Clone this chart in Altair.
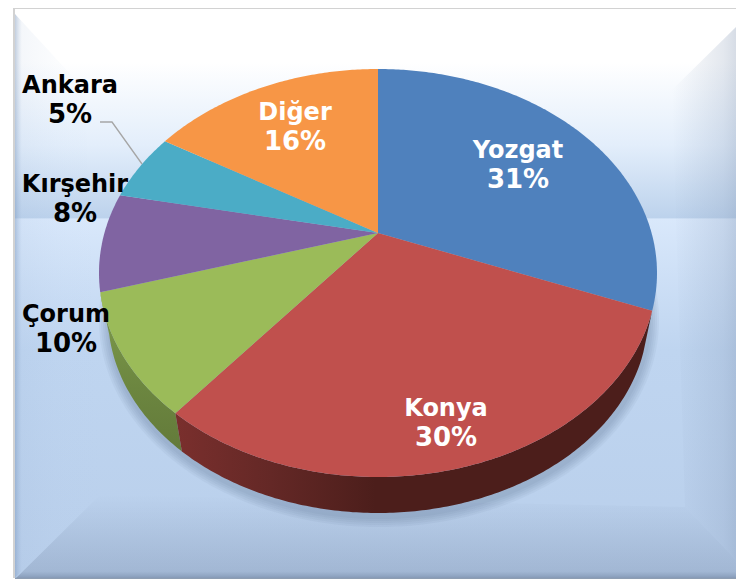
import math
import altair as alt

categories = ["Yozgat", "Konya", "Çorum", "Kırşehir", "Ankara", "Diğer"]
shares = [31, 29.8, 9.6, 7.8, 5.4, 16.4]
percent_labels = ["31%", "30%", "10%", "8%", "5%", "16%"]
colors = ["#4f81bd", "#c0504d", "#9bbb59", "#8064a2", "#4bacc6", "#f79646"]
label_x = [518, 446, 66, 75, 70, 295]
name_y = [151, 409, 315, 185, 86, 113]
pct_y = [180, 438, 344, 214, 115, 142]
label_color = ["white", "white", "black", "black", "black", "white"]

OX, OY = 8, 8
TILT = -0.196
TOP = (378, 273, 279, 204)
LOW = (378, 316, 270, 197)
APEX = (378, 233)


def P(x, y):
    return [x - OX, y - OY]


def rim(a, e=TOP):
    cx, cy, rx, ry = e
    u, v = math.sin(a), -math.cos(a)
    d = 1 + TILT * v
    return P(cx + rx * u * math.sqrt(1 - TILT ** 2) / d, cy + ry * (v + TILT) / d)


def arc(a0, a1, e=TOP):
    n = max(2, int(abs(a1 - a0) * 90))
    return [rim(a0 + (a1 - a0) * i / n, e) for i in range(n + 1)]


def poly(pts):
    return {"type": "Feature", "properties": {},
            "geometry": {"type": "Polygon", "coordinates": [pts + [pts[0]]]}}


def line(pts):
    return {"type": "Feature", "properties": {},
            "geometry": {"type": "LineString", "coordinates": pts}}


def grad(stops, horizontal=False):
    return alt.LinearGradient(
        gradient="linear",
        stops=[alt.GradientStop(offset=o, color=c) for o, c in stops],
        x1=0, y1=0, x2=1 if horizontal else 0, y2=0 if horizontal else 1)


proj = alt.Projection(type="identity", scale=1, translate=[0, 0]).to_dict()


def shape(features, **mark):
    mark.setdefault("stroke", "transparent")
    return alt.Chart(alt.Data(values=features)).mark_geoshape(**mark).project(**proj)


L, R, T, B = 15, 736, 8, 578
layers = []

# panel background
layers.append(shape([poly([P(L, T), P(R, T), P(R, B), P(L, B)])], fill=grad([
    (0, "#ffffff"), (0.095, "#ffffff"), (0.24, "#e3eefb"), (0.369, "#bcd2ec"),
    (0.3695, "#d9e8fb"), (0.6, "#bfd5f0"), (1, "#b9cfeb")])))
layers.append(shape([poly([P(L, 14), P(L, B), P(100, 495), P(85, 90)])], fill=grad([
    (0, "rgba(110,140,180,0.42)"), (0.08, "rgba(150,175,210,0.1)"),
    (0.6, "rgba(170,195,230,0.03)"), (1, "rgba(170,195,230,0)")], True)))
layers.append(shape([poly([P(R, 27), P(R, 560), P(685, 507), P(672, 90)])], fill=grad([
    (0, "rgba(130,150,180,0)"), (0.8, "rgba(130,150,180,0.22)"),
    (1, "rgba(120,140,170,0.3)")], True)))
layers.append(shape([poly([P(L + 1, B), P(R, B), P(R, 560), P(685, 507), P(100, 495)])], fill=grad([
    (0, "rgba(130,150,180,0)"), (0.92, "rgba(130,150,180,0.42)"),
    (1, "rgba(100,120,150,0.6)")])))

# frame
layers.append(shape([line([P(L - 1, B), P(L - 1, T), P(R, T)])],
                    filled=False, stroke="#d2d2d2", strokeWidth=2))
layers.append(shape([line([P(L, B + 0.5), P(R, B + 0.5)])],
                    filled=False, stroke="#8d9db2", strokeWidth=1.5))

# soft shadow under the pie
total = sum(shares)
for k in (10, 8, 6, 4, 2):
    e = (LOW[0] + 1, LOW[1] + 4, LOW[2] + k, LOW[3] + k)
    layers.append(shape([poly(arc(0, 2 * math.pi, e))], fill="#3f5676", opacity=0.05))

# slice angles come from the shares
angles = [0]
for s in shares:
    angles.append(angles[-1] + 2 * math.pi * s / total)

# pie wall: Konya and Çorum are the slices facing the viewer
i_k, i_c = categories.index("Konya"), categories.index("Çorum")
side_c = shape([poly(arc(angles[i_c], angles[i_c + 1]) + arc(angles[i_c + 1], angles[i_c], LOW))],
               fill=grad([(0, "#7f9c4c"), (0.6, "#6c8640"), (1, "#637a3a")]))
side_k = shape([poly(arc(angles[i_k], angles[i_k + 1]) + arc(angles[i_k + 1], angles[i_k], LOW))],
               fill=grad([(0, "#7a2f2d"), (0.2, "#642826"), (0.42, "#4c1e1b"), (1, "#4c1e1b")], True))
layers += [side_c, side_k]

# pie top
apex = P(*APEX)
for i, c in enumerate(categories):
    layers.append(shape([poly([apex] + arc(angles[i], angles[i + 1]))], fill=colors[i]))

# leader line for Ankara
layers.append(shape([line([P(100, 122), P(112, 122), P(142, 164)])],
                    filled=False, stroke="#a6a6a6", strokeWidth=1.3))


def text_layer(texts, ys, size):
    rows = [{"t": t, "lon": x - OX, "lat": y - OY, "col": col}
            for t, x, y, col in zip(texts, label_x, ys, label_color)]
    return alt.Chart(alt.Data(values=rows)).mark_text(
        font="DejaVu Sans", fontWeight="bold", fontSize=size,
        align="center", baseline="middle",
    ).encode(
        longitude="lon:Q", latitude="lat:Q", text="t:N",
        color=alt.Color("col:N", scale=None, legend=None),
    ).project(**proj)


layers.append(text_layer(categories, name_y, 24))
layers.append(text_layer(percent_labels, pct_y, 26))

chart = alt.layer(*layers).properties(
    width=732, height=571, padding=0, background="white"
).configure_view(stroke=None)

chart.save("out.html", embed_options={"renderer": "svg", "actions": False})
